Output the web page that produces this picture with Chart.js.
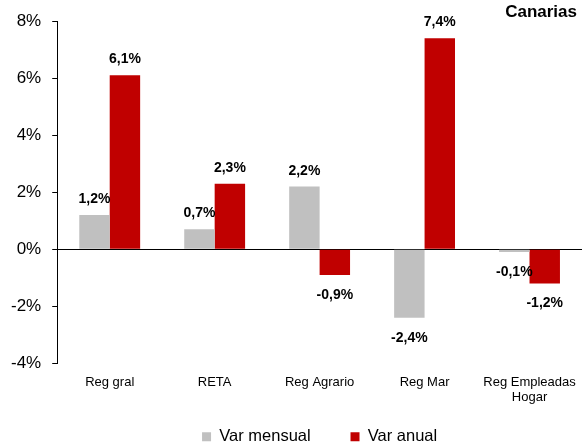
<!DOCTYPE html>
<html>
<head>
<meta charset="utf-8">
<script src="https://cdn.jsdelivr.net/npm/chart.js@4.4.0/dist/chart.umd.min.js"></script>
<style>
  html, body { margin: 0; padding: 0; background: #fff; }
  #wrap { width: 582px; height: 443px; position: relative; }
</style>
</head>
<body>
<div id="wrap"><canvas id="chart"></canvas></div>
<script>
/* ==================== DATA ==================== */
const categories = ["Reg gral", "RETA", "Reg Agrario", "Reg Mar", ["Reg Empleadas", "Hogar"]];
const varMensual = [1.2, 0.7, 2.2, -2.4, -0.1];
const varAnual = [6.1, 2.3, -0.9, 7.4, -1.2];
const seriesNames = ["Var mensual", "Var anual"];
const yMin = -4, yMax = 8, yStep = 2;
const regionTitle = "Canarias";

const FONT = "'Liberation Sans', Arial, sans-serif";
const fmt = v => v.toFixed(1).replace(".", ",") + "%";

/* ==================== PLUGINS ==================== */
// value labels above / below bars
const barLabels = {
  id: "barLabels",
  afterDatasetsDraw(chart) {
    const ctx = chart.ctx;
    ctx.save();
    ctx.font = "bold 14px " + FONT;
    ctx.fillStyle = "#000";
    ctx.textAlign = "center";
    chart.data.datasets.forEach((ds, i) => {
      chart.getDatasetMeta(i).data.forEach((bar, j) => {
        const v = ds.data[j];
        if (v >= 0) {
          ctx.textBaseline = "alphabetic";
          ctx.fillText(fmt(v), bar.x, bar.y - 12);
        } else {
          ctx.textBaseline = "top";
          ctx.fillText(fmt(v), bar.x, bar.y + 13);
        }
      });
    });
    ctx.restore();
  }
};

// region name in the top right corner
const cornerTitle = {
  id: "cornerTitle",
  afterDraw(chart) {
    const ctx = chart.ctx;
    ctx.save();
    ctx.font = "bold 17px " + FONT;
    ctx.fillStyle = "#000";
    ctx.textAlign = "right";
    ctx.textBaseline = "middle";
    ctx.fillText(regionTitle, 577, 12);
    ctx.restore();
  }
};

/* ==================== CHART ==================== */
document.addEventListener("DOMContentLoaded", () => {
  new Chart(document.getElementById("chart"), {
    type: "bar",
    data: {
      labels: categories,
      datasets: [
        { label: seriesNames[0], data: varMensual, backgroundColor: "#c0c0c0" },
        { label: seriesNames[1], data: varAnual, backgroundColor: "#c00000" }
      ]
    },
    options: {
      responsive: true,
      maintainAspectRatio: false,
      animation: false,
      datasets: { bar: { categoryPercentage: 0.58, barPercentage: 1.0 } },
      layout: { padding: { top: 21, right: 0, left: 0, bottom: -12 } },
      plugins: {
        legend: {
          position: "bottom",
          fullSize: false,
          labels: {
            boxWidth: 9, boxHeight: 9, color: "#000", padding: 20,
            font: { size: 16.5, family: FONT },
            // wider gap after the first entry, like the original
            generateLabels: chart => {
              const items = Chart.defaults.plugins.legend.labels.generateLabels(chart);
              items.forEach((it, i) => { if (i < items.length - 1) it.text += "\u2003\u2009"; });
              return items;
            }
          }
        },
        tooltip: { enabled: false }
      },
      scales: {
        x: {
          grid: { display: false },
          border: { display: false },
          ticks: {
            color: "#000", padding: 3,
            font: { size: 13, family: FONT },
            maxRotation: 0, autoSkip: false
          }
        },
        y: {
          min: yMin, max: yMax,
          grid: {
            color: c => (c.tick && c.tick.value === 0 ? "#000" : "rgba(0,0,0,0)"),
            tickColor: "#000",
            tickLength: 5,
            lineWidth: 1
          },
          border: { display: true, color: "#000" },
          ticks: {
            stepSize: yStep, color: "#000", padding: 11,
            font: { size: 17, family: FONT },
            callback: v => v + "%"
          }
        }
      }
    },
    plugins: [barLabels, cornerTitle]
  });
});
</script>
</body>
</html>
